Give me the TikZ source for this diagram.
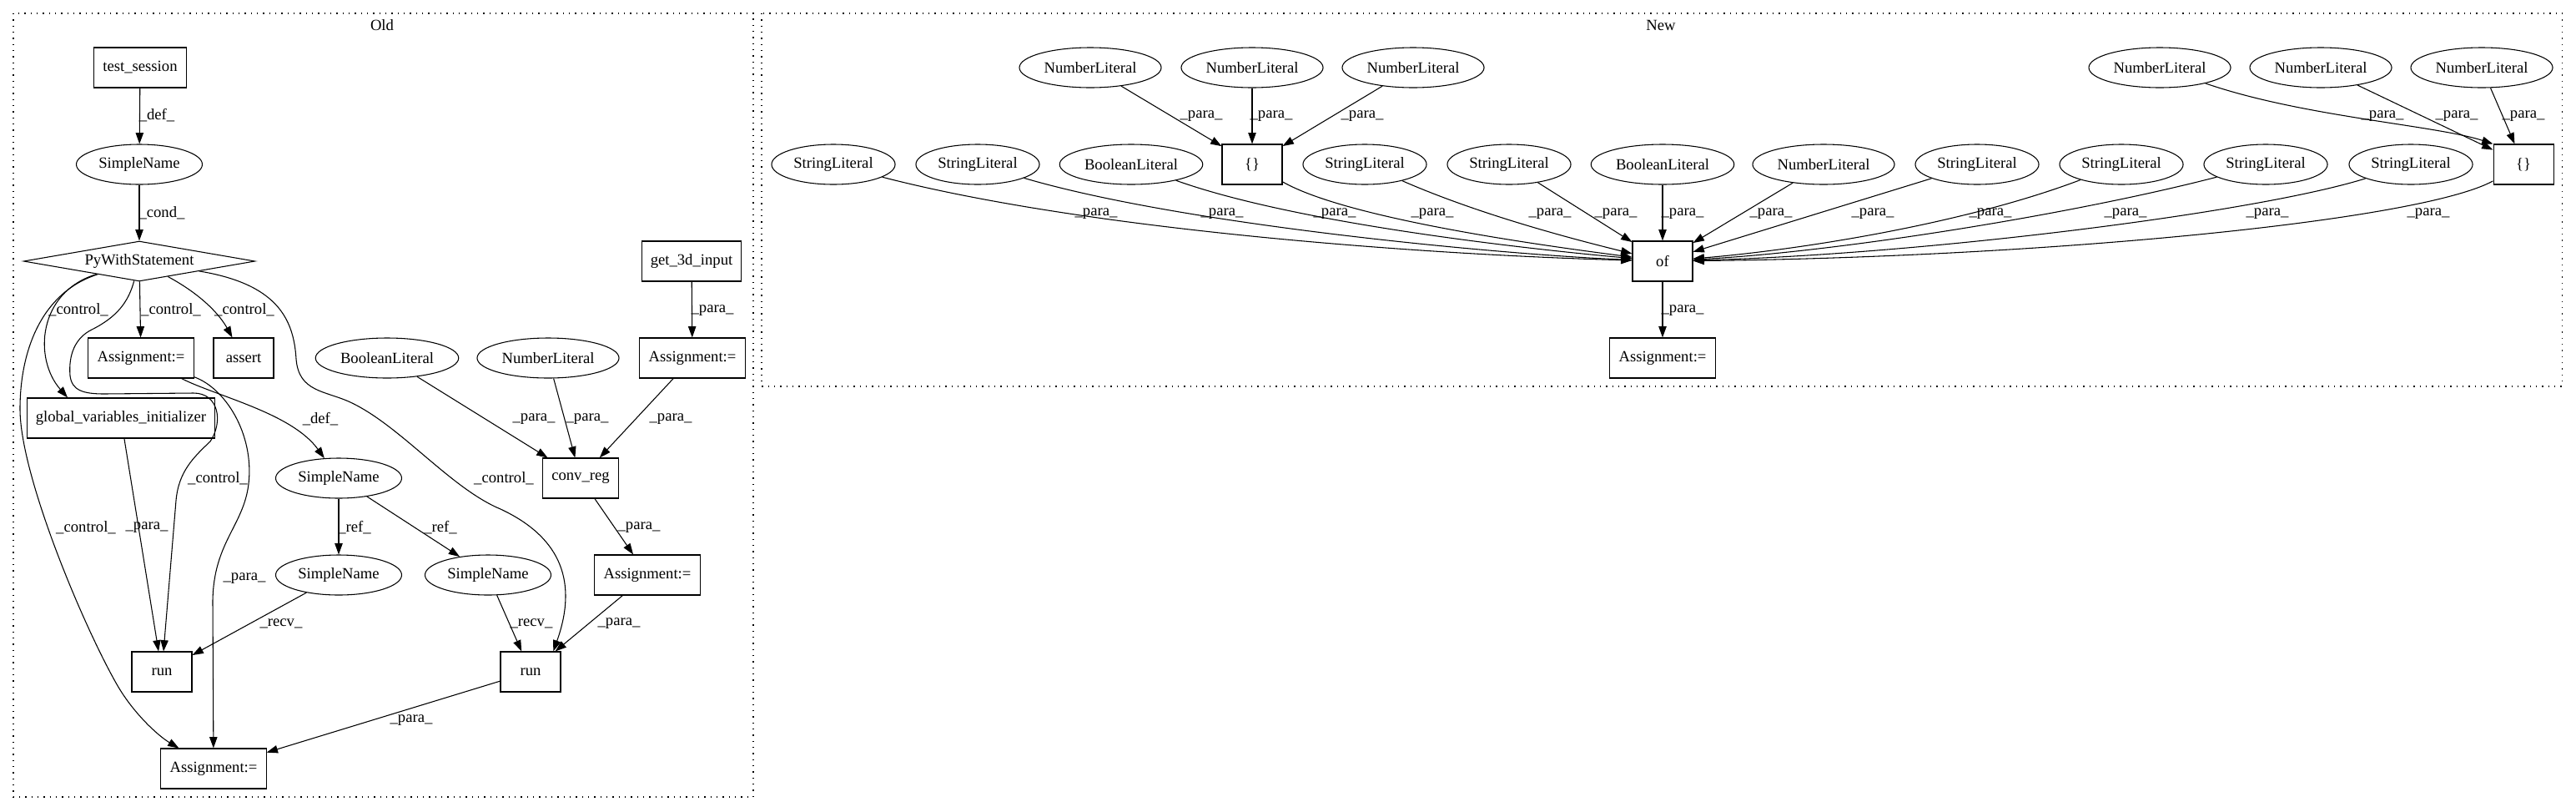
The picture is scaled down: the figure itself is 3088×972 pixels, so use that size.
\documentclass[tikz,border=0pt]{standalone}
\usepackage{fontspec}
\setmainfont{Liberation Serif}
\usetikzlibrary{shapes.geometric, arrows.meta}

\begin{document}
\begin{tikzpicture}[
  x=0.75pt, y=-0.75pt,
  line width=0.8pt,
  every node/.style={font=\fontsize{14}{16}\selectfont},
  box/.style={draw, rectangle, minimum width=54pt, minimum height=36pt, inner xsep=8pt, inner ysep=0pt},
  lit/.style={draw, ellipse, minimum width=54pt, minimum height=36pt, inner xsep=3.5pt, inner ysep=0pt},
  cond/.style={draw, diamond, aspect=6, minimum width=208pt, minimum height=36pt, inner sep=0pt},
  edge/.style={-{Triangle[length=10pt, width=7pt]}},
  lbl/.style={inner sep=0pt},
  cluster/.style={dash pattern=on 1pt off 4.5pt},
]
  \useasboundingbox (0,0) rectangle (3088,972);

  % clusters
  \draw[cluster] (16,16) rectangle (903,955);
  \node (old) at (458,30) {Old};
  \draw[cluster] (913,16) rectangle (3071,463);
  \node (new) at (1991,30) {New};

  % Old
  \node[box] (ts) at (168,81) {test\_session};
  \node[lit] (sn1) at (167,197) {SimpleName};
  \node[cond] (pws) at (167,313) {PyWithStatement};
  \node[box] (asg1) at (169,429) {Assignment:=};
  \node[box] (asrt) at (292,429) {assert};
  \node[lit] (bl0) at (464,429) {BooleanLiteral};
  \node[lit] (nl0) at (657,429) {NumberLiteral};
  \node[box] (asg2) at (830,429) {Assignment:=};
  \node[box] (g3d) at (829,313) {get\_3d\_input};
  \node[box] (gvi) at (145,501) {global\_variables\_initializer};
  \node[lit] (sn2) at (406,573) {SimpleName};
  \node[box] (conv) at (696,573) {conv\_reg};
  \node[lit] (sn3) at (406,689) {SimpleName};
  \node[lit] (sn4) at (585,689) {SimpleName};
  \node[box] (asg3) at (776,689) {Assignment:=};
  \node[box] (run1) at (194,805) {run};
  \node[box] (run2) at (636,805) {run};
  \node[box] (asg4) at (256,921) {Assignment:=};

  \draw[edge] (ts) -- (sn1) node[lbl] at (188,138) {\_def\_};
  \draw[edge] (sn1) -- (pws) node[lbl] at (194,255) {\_cond\_};
  \draw[edge] (pws) -- (asg1) node[lbl] at (205,371) {\_control\_};
  \draw[edge] (pws) .. controls (245,355) and (265,380) .. (asrt) node[lbl] at (293,371) {\_control\_};
  \draw[edge] (pws) .. controls (45,350) and (40,430) .. (gvi.159) node[lbl] at (94,371) {\_control\_};
  \draw[edge] (pws) .. controls (154,362) and (140,380) .. (110,395)
    .. controls (90,405) and (82,425) .. (84,450)
    .. controls (86,468) and (100,472) .. (125,472) -- (232,471)
    .. controls (262,471) and (268,505) .. (252,529)
    .. controls (232,548) and (214,565) .. (211,600) -- (run1)
    node[lbl] at (261,573) {\_control\_};
  \draw[edge] (pws) .. controls (330,340) and (352,380) .. (355,430)
    .. controls (358,470) and (390,468) .. (420,482)
    .. controls (480,510) and (540,585) .. (600,610)
    .. controls (675,645) and (692,700) .. (run2.42)
    node[lbl] at (604,573) {\_control\_};
  \draw[edge] (pws) .. controls (50,350) and (24,420) .. (24,490)
    .. controls (24,570) and (100,750) .. (140,820)
    .. controls (160,855) and (190,882) .. (asg4)
    node[lbl] at (103,632) {\_control\_};
  \draw[edge] (gvi) -- (run1) node[lbl] at (176,632) {\_para\_};
  \draw[edge] (asg1) .. controls (260,475) and (350,495) .. (sn2) node[lbl] at (384,502) {\_def\_};
  \draw[edge] (asg1) .. controls (270,465) and (305,520) .. (298,580)
    .. controls (292,630) and (256,650) .. (255,720) -- (asg4)
    node[lbl] at (293,693) {\_para\_};
  \draw[edge] (sn2) -- (sn3) node[lbl] at (425,632) {\_ref\_};
  \draw[edge] (sn2) -- (sn4) node[lbl] at (528,632) {\_ref\_};
  \draw[edge] (sn3) -- (run1) node[lbl] at (337,747) {\_recv\_};
  \draw[edge] (sn4) -- (run2) node[lbl] at (637,747) {\_recv\_};
  \draw[edge] (bl0) -- (conv) node[lbl] at (640,502) {\_para\_};
  \draw[edge] (nl0) -- (conv) node[lbl] at (704,502) {\_para\_};
  \draw[edge] (asg2) -- (conv) node[lbl] at (804,502) {\_para\_};
  \draw[edge] (g3d) -- (asg2) node[lbl] at (854,372) {\_para\_};
  \draw[edge] (conv) -- (asg3) node[lbl] at (766,632) {\_para\_};
  \draw[edge] (asg3) -- (run2) node[lbl] at (742,747) {\_para\_};
  \draw[edge] (run2) -- (asg4) node[lbl] at (493,863) {\_para\_};

  % New
  \node[lit] (nla) at (1307,81) {NumberLiteral};
  \node[lit] (nlb) at (1501,81) {NumberLiteral};
  \node[lit] (nlc) at (1694,81) {NumberLiteral};
  \node[box] (br1) at (1501,197) {\{\}};
  \node[lit] (sla) at (999,197) {StringLiteral};
  \node[lit] (slb) at (1172,197) {StringLiteral};
  \node[lit] (bla) at (1356,197) {BooleanLiteral};
  \node[lit] (slc) at (1636,197) {StringLiteral};
  \node[lit] (sld) at (1809,197) {StringLiteral};
  \node[lit] (blb) at (1993,197) {BooleanLiteral};
  \node[lit] (nld) at (2186,197) {NumberLiteral};
  \node[lit] (sle) at (2370,197) {StringLiteral};
  \node[lit] (slf) at (2543,197) {StringLiteral};
  \node[lit] (slg) at (2716,197) {StringLiteral};
  \node[lit] (slh) at (2890,197) {StringLiteral};
  \node[box] (br2) at (3025,197) {\{\}};
  \node[lit] (nle) at (2589,81) {NumberLiteral};
  \node[lit] (nlf) at (2782,81) {NumberLiteral};
  \node[lit] (nlg) at (2975,81) {NumberLiteral};
  \node[box] (of) at (1993,313) {of};
  \node[box] (asg5) at (1993,429) {Assignment:=};

  \draw[edge] (nla) -- (br1) node[lbl] at (1440,139) {\_para\_};
  \draw[edge] (nlb) -- (br1) node[lbl] at (1524,139) {\_para\_};
  \draw[edge] (nlc) -- (br1) node[lbl] at (1633,139) {\_para\_};
  \draw[edge] (nle) .. controls (2760,140) and (2920,150) .. (br2.north west) node[lbl] at (2856,139) {\_para\_};
  \draw[edge] (nlf) -- (br2) node[lbl] at (2945,139) {\_para\_};
  \draw[edge] (nlg) -- (br2) node[lbl] at (3025,139) {\_para\_};

  \draw[edge] (sla) .. controls (1300,275) and (1700,305) .. (of) node[lbl] at (1314,256) {\_para\_};
  \draw[edge] (slb) .. controls (1420,270) and (1800,305) .. (of) node[lbl] at (1465,256) {\_para\_};
  \draw[edge] (bla) .. controls (1560,270) and (1850,300) .. (of) node[lbl] at (1600,256) {\_para\_};
  \draw[edge] (br1) .. controls (1620,265) and (1880,298) .. (of) node[lbl] at (1717,256) {\_para\_};
  \draw[edge] (slc) .. controls (1780,260) and (1900,290) .. (of) node[lbl] at (1858,256) {\_para\_};
  \draw[edge] (sld) -- (of) node[lbl] at (1937,256) {\_para\_};
  \draw[edge] (blb) -- (of) node[lbl] at (2017,256) {\_para\_};
  \draw[edge] (nld) -- (of) node[lbl] at (2123,256) {\_para\_};
  \draw[edge] (sle) -- (of) node[lbl] at (2245,256) {\_para\_};
  \draw[edge] (slf) .. controls (2350,270) and (2150,300) .. (of) node[lbl] at (2386,256) {\_para\_};
  \draw[edge] (slg) .. controls (2480,258) and (2200,302) .. (of) node[lbl] at (2548,256) {\_para\_};
  \draw[edge] (slh) .. controls (2700,256) and (2300,305) .. (of) node[lbl] at (2718,256) {\_para\_};
  \draw[edge] (br2) .. controls (2900,265) and (2450,308) .. (of) node[lbl] at (2911,256) {\_para\_};
  \draw[edge] (of) -- (asg5) node[lbl] at (2017,372) {\_para\_};
\end{tikzpicture}
\end{document}
